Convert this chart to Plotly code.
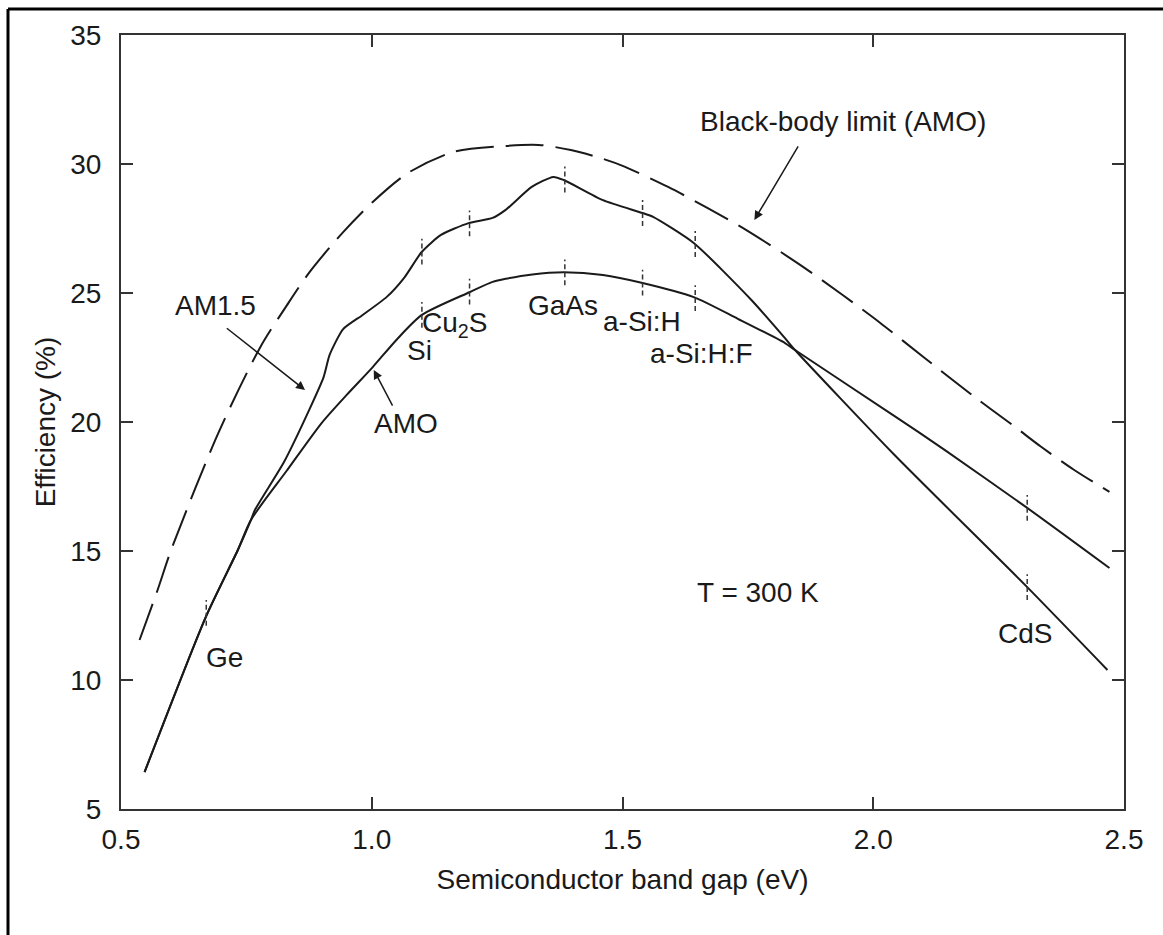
import plotly.graph_objects as go

# ---- data (band gap in eV, efficiency in %) ----
bb_x = [0.537, 0.573, 0.600, 0.694, 0.778, 0.831, 0.876, 0.943, 1.002, 1.072,
        1.163, 1.267, 1.333, 1.397, 1.461, 1.504, 1.591, 1.670, 1.747, 1.852,
        1.939, 2.014, 2.100, 2.200, 2.280, 2.334, 2.400, 2.471]
bb_y = [11.55, 13.49, 15.04, 19.57, 22.91, 24.53, 25.81, 27.36, 28.53, 29.65,
        30.47, 30.70, 30.74, 30.54, 30.20, 29.90, 29.11, 28.29, 27.44, 26.12,
        24.92, 23.84, 22.52, 21.00, 19.85, 19.05, 18.15, 17.29]

am15_x = [0.547, 0.669, 0.733, 0.759, 0.767, 0.825, 0.876, 0.904, 0.916, 0.943,
          0.982, 1.030, 1.065, 1.100, 1.138, 1.193, 1.241, 1.267, 1.319, 1.362,
          1.383, 1.461, 1.540, 1.561, 1.642, 1.757, 1.824, 1.844, 2.041, 2.307,
          2.467]
am15_y = [6.43, 12.44, 15.04, 16.20, 16.59, 18.45, 20.50, 21.74, 22.60, 23.60,
          24.15, 24.85, 25.60, 26.60, 27.25, 27.71, 27.91, 28.22, 29.11, 29.50,
          29.38, 28.60, 28.10, 27.95, 26.94, 24.73, 23.25, 22.79, 18.75, 13.60,
          10.39]

amo_x = [0.547, 0.669, 0.733, 0.759, 0.830, 0.900, 0.950, 1.002, 1.050, 1.100,
         1.196, 1.241, 1.267, 1.320, 1.383, 1.461, 1.540, 1.642, 1.730, 1.824,
         1.844, 2.041, 2.143, 2.307, 2.471]
amo_y = [6.43, 12.44, 15.04, 16.20, 18.10, 19.96, 21.05, 22.13, 23.20, 24.15,
         25.04, 25.43, 25.55, 25.72, 25.80, 25.70, 25.39, 24.84, 24.00, 23.06,
         22.79, 20.25, 18.91, 16.67, 14.34]

materials = ["Ge", "Si", "Cu<sub>2</sub>S", "GaAs", "a-Si:H", "a-Si:H:F", "CdS"]
gap_ev = [0.67, 1.10, 1.195, 1.385, 1.54, 1.645, 2.307]
am15_at_gap = [12.6, 26.6, 27.7, 29.4, 28.1, 26.9, 13.6]
amo_at_gap = [None, 24.15, 25.05, 25.8, 25.4, 24.8, 16.67]

x_ticks = [0.5, 1.0, 1.5, 2.0, 2.5]
x_ticktext = ["0.5", "1.0", "1.5", "2.0", "2.5"]
y_ticks = [5, 10, 15, 20, 25, 30, 35]

FONT = "Liberation Sans, Arial, Helvetica, sans-serif"
INK = "#1a1a1a"
FS = 28

fig = go.Figure()

fig.add_trace(go.Scatter(x=bb_x, y=bb_y, mode="lines", name="Black-body limit (AMO)",
                         line=dict(color=INK, width=2, dash="38px,12px", shape="spline", smoothing=0.8)))
fig.add_trace(go.Scatter(x=am15_x, y=am15_y, mode="lines", name="AM1.5",
                         line=dict(color=INK, width=2, shape="spline", smoothing=0.6)))
fig.add_trace(go.Scatter(x=amo_x, y=amo_y, mode="lines", name="AMO",
                         line=dict(color=INK, width=2, shape="spline", smoothing=0.7)))

# small vertical marks at each material band gap
tx, ty = [], []
half = 0.5
for g, a, b in zip(gap_ev, am15_at_gap, amo_at_gap):
    for v in (a, b):
        if v is None:
            continue
        tx += [g, g, None]
        ty += [v - half, v + half, None]
fig.add_trace(go.Scatter(x=tx, y=ty, mode="lines", showlegend=False,
                         line=dict(color="#333", width=1.5, dash="5px,3px")))

axis_common = dict(showline=True, linecolor="#333", linewidth=2, mirror="ticks",
                   ticks="inside", ticklen=12, tickwidth=1.5, tickcolor="#333",
                   showgrid=False, zeroline=False,
                   tickfont=dict(family=FONT, size=FS, color=INK))

fig.update_xaxes(range=[0.5, 2.5], tickvals=x_ticks, ticktext=x_ticktext,
                 ticklabelstandoff=4,
                 title=dict(text="Semiconductor band gap (eV)", standoff=16,
                            font=dict(family=FONT, size=FS, color=INK)),
                 **axis_common)
fig.update_yaxes(range=[5, 35], tickvals=y_ticks,
                 ticklabelstandoff=12,
                 title=dict(text="Efficiency (%)", standoff=6,
                            font=dict(family=FONT, size=FS, color=INK)),
                 **axis_common)

# text labels
labels = [
    ("Black-body limit (AMO)", 1.94, 31.63),
    ("AM1.5", 0.688, 24.53),
    ("AMO", 1.068, 19.96),
    ("Si", 1.095, 22.79),
    ("Cu<sub>2</sub>S", 1.165, 23.76),
    ("GaAs", 1.381, 24.53),
    ("a-Si:H", 1.538, 23.88),
    ("a-Si:H:F", 1.658, 22.67),
    ("T = 300 K", 1.771, 13.41),
    ("CdS", 2.303, 11.82),
    ("Ge", 0.706, 10.89),
]
for text, x, y in labels:
    fig.add_annotation(x=x, y=y, text=text, showarrow=False,
                       font=dict(family=FONT, size=FS, color=INK),
                       xanchor="center", yanchor="middle")

# arrows (head -> tail)
arrows = [
    ((1.763, 27.83), (1.852, 30.74)),
    ((0.867, 21.24), (0.708, 23.68)),
    ((1.004, 22.02), (1.043, 20.58)),
]
for (hx, hy), (tx0, ty0) in arrows:
    fig.add_annotation(x=hx, y=hy, ax=tx0, ay=ty0, axref="x", ayref="y",
                       text="", showarrow=True, arrowhead=2, arrowsize=1.2,
                       arrowwidth=1.5, arrowcolor=INK)

# outer frame (left and top edges visible)
W, H = 1163, 935
L, R, T, B = 121, 39, 35, 126
pw, ph = W - L - R, H - T - B
def px(xp):
    return (xp - L) / pw
def py(yp):
    return (H - B - yp) / ph
fig.add_shape(type="line", xref="paper", yref="paper", x0=px(8), x1=px(8), y0=py(9), y1=py(H + 20),
              line=dict(color="black", width=3))
fig.add_shape(type="line", xref="paper", yref="paper", x0=px(8), x1=px(W + 20), y0=py(9), y1=py(9),
              line=dict(color="black", width=3))

fig.update_layout(width=W, height=H, margin=dict(l=L, r=R, t=T, b=B),
                  paper_bgcolor="white", plot_bgcolor="white", showlegend=False,
                  font=dict(family=FONT, color=INK))

fig.write_html("out.html", config={"displayModeBar": False},
               post_script="document.body.style.margin='0';document.body.style.overflow='hidden';")
